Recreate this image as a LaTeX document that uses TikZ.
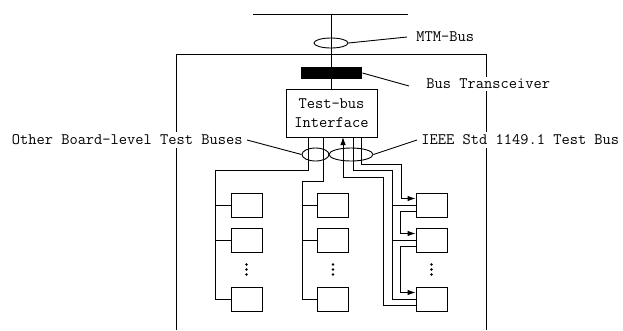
\documentclass[tikz,border=0pt]{standalone}
\usetikzlibrary{shapes.geometric,arrows.meta,calc}

\tikzset{
  lbl/.style={font=\fontsize{16}{19}\selectfont\ttfamily, inner sep=1pt},
  card/.style={draw, minimum width=31pt, minimum height=24pt, inner sep=0pt},
  ring/.style={draw, ellipse, inner sep=0pt},
  sig/.style={-{Latex[length=8pt,width=5.5pt]}},
}

\begin{document}
\begin{tikzpicture}[x=1pt, y=-1pt, line width=0.9pt]
  \useasboundingbox (0,0) rectangle (623,330);

  % board outline and MTM bus
  \draw (176,330) |- (486,54) -- (486,330);
  \coordinate (mtmbus) at (331,14);
  \draw (253,14) -- (408,14);

  % interface and transceiver
  \node[draw, lbl, align=center, minimum width=91pt, minimum height=48pt, inner sep=0pt]
    (tbi) at (331.5,113) {Test-bus\\Interface};
  \draw (mtmbus) -- (tbi.north -| mtmbus);
  \node[fill=black, minimum width=61pt, minimum height=12pt, inner sep=0pt] (xcvr) at (331.5,73) {};
  \node[ring, minimum width=34pt, minimum height=10pt] (mtm) at (331,43) {};

  % boards
  \foreach \c/\x in {l/246.5, m/333, r/431.5} {
    \node[card] (\c1) at (\x,205) {};
    \node[card] (\c2) at (\x,240) {};
    \node[card] (\c3) at (\x,299) {};
    \coordinate (\c dots) at ($(\c2)!.5!(\c3)$);
    \foreach \s in {-5,0,5}
      \fill ([yshift=\s pt]\c dots) circle (1.4);
  }

  % other board-level test buses
  \coordinate (o1) at (308,137);
  \coordinate (o2) at (323,137);
  \coordinate (lbus) at (215,170);
  \coordinate (mbus) at (302,181);
  \draw (o1) |- (lbus) |- (l3.west);
  \draw (o2) |- (mbus) |- (m3.west);
  \foreach \c/\b in {l/lbus, m/mbus} {
    \draw (\c1.west) -- (\c1.west -| \b);
    \draw (\c2.west) -- (\c2.west -| \b);
  }

  % 1149.1 bus
  \coordinate (tdo) at (343,137);
  \coordinate (tms) at (353,137);
  \coordinate (tdi) at (361,137);
  \coordinate (tdobus) at (383,177);
  \coordinate (tmsbus) at (392,170);
  \coordinate (tdibus) at (401,164);
  \draw[sig] (tdi) |- (tdibus) |- ([yshift=6.5pt]r1.west);
  \draw[sig] ([yshift=-6.5pt]r1.west) -- ++(-15,0) |- ([yshift=6.5pt]r2.west);
  \draw[sig] ([yshift=-6.5pt]r2.west) -- ++(-15,0) |- ([yshift=6.5pt]r3.west);
  \draw (tms) |- (tmsbus) |- (r3.west);
  \draw (r1.west) -- (r1.west -| tmsbus);
  \draw (r2.west) -- (r2.west -| tmsbus);
  \draw[sig] ([yshift=-6.5pt]r3.west) -| (tdobus) -| (tdo);

  \node[ring, minimum width=27pt, minimum height=13pt] (obus) at (315.5,154.5) {};
  \node[ring, minimum width=44pt, minimum height=13pt] (ieee) at (351,154.5) {};

  % labels
  \node[lbl, anchor=west] (mtmtxt) at (415,37) {MTM-Bus};
  \node[lbl, anchor=west, fill=white, inner ysep=2.5pt] (xcvrtxt) at (425,84) {Bus Transceiver};
  \node[lbl, anchor=east, fill=white, inner ysep=3pt] (otxt) at (244,140) {Other Board-level Test Buses};
  \node[lbl, anchor=west, fill=white, inner ysep=3pt] (ieeetxt) at (420,140) {IEEE Std 1149.1 Test Bus};
  \draw (mtm.east) -- ([xshift=-8pt]mtmtxt.west);
  \draw (xcvr.east) -- ([xshift=-16pt,yshift=-2pt]xcvrtxt.west);
  \draw (obus.west) -- ([xshift=3pt]otxt.east);
  \draw (ieee.east) -- ([xshift=-3pt]ieeetxt.west);
\end{tikzpicture}
\end{document}
